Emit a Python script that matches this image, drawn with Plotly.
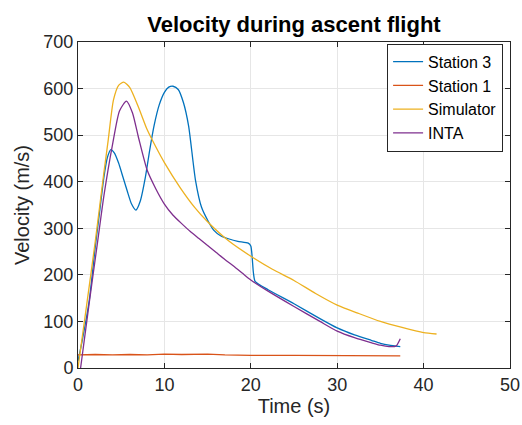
import plotly.graph_objects as go

# Station 3 (blue)
st3_t = [0, 0.5, 1.3, 2.0, 2.5, 3.0, 3.4, 3.8, 4.2, 4.7, 5.2, 5.7, 6.2, 6.7, 7.2, 7.8, 8.3, 8.8, 9.4, 10.0, 10.5, 11.0, 11.6, 12.2, 12.8, 13.6, 14.3, 15.1, 15.7, 16.5, 17.5, 18.5, 19.7, 20.0, 20.3, 20.5, 22.0, 25.0, 28.0, 30.0, 32.0, 34.0, 35.0, 36.0, 37.3]
st3_v = [15, 60, 145, 260, 335, 410, 452, 469, 462, 440, 410, 380, 352, 339, 358, 410, 468, 520, 565, 592, 603, 605, 598, 570, 520, 403, 345, 314, 296, 284, 277, 272, 268, 262, 205, 186, 168, 138, 106, 86, 71, 59, 53, 49, 46]

# Station 1 (red)
st1_t = [0, 2, 4, 6, 8, 10, 12, 14, 15, 17, 20, 25, 30, 35, 37.3]
st1_v = [28, 29, 28, 29, 28, 30, 29, 29, 30, 28, 27, 27, 26, 26, 26]

# Simulator (yellow)
sim_t = [0, 1, 2, 3, 3.5, 4.1, 4.7, 5.3, 6, 7, 8, 9, 10, 11.8, 13.5, 15, 17.5, 20, 22.5, 25, 27.5, 30, 32.5, 35, 37.5, 40, 41.5]
sim_v = [0, 135, 272, 420, 490, 575, 607, 614, 602, 560, 512, 475, 441, 388, 345, 314, 272, 240, 212, 188, 160, 135, 117, 100, 87, 76, 73]

# INTA (purple)
inta_t = [0.3, 1.3, 2.3, 3.0, 4.0, 4.8, 5.6, 6.3, 7.0, 8.0, 9.0, 10.0, 11.0, 12.0, 13.0, 14.0, 15.0, 16.0, 17.0, 18.0, 19.0, 20.0, 22.0, 25.0, 28.0, 30.0, 32.0, 34.0, 35.0, 36.0, 36.8, 37.3]
inta_v = [0, 140, 275, 370, 480, 552, 573, 548, 495, 425, 385, 352, 328, 310, 293, 278, 263, 248, 233, 219, 204, 189, 165, 132, 100, 79, 65, 54, 49, 46, 47, 63]

series = [
    ("Station 3", st3_t, st3_v, "#0072BD", "spline"),
    ("Station 1", st1_t, st1_v, "#D95319", "linear"),
    ("Simulator", sim_t, sim_v, "#EDB120", "spline"),
    ("INTA", inta_t, inta_v, "#7E2F8E", "spline"),
]

FONT = "Liberation Sans, Arial, Helvetica, sans-serif"

fig = go.Figure()
for name, t, v, c, shape in series:
    line = dict(color=c, width=1.3, shape=shape)
    if shape == "spline":
        line["smoothing"] = 0.6
    fig.add_trace(go.Scatter(x=t, y=v, mode="lines", name=name, line=line))

axis_common = dict(
    showline=True, linecolor="#262626", linewidth=1, mirror="allticks",
    ticks="inside", ticklen=5, tickcolor="#262626",
    showgrid=True, gridcolor="#e6e6e6", gridwidth=1, zeroline=False,
    automargin=False, ticklabeloverflow="allow",
    tickfont=dict(family=FONT, size=18, color="#262626"),
)

W, H = 522, 425
fig.update_layout(
    width=W, height=H,
    margin=dict(l=78, r=12, t=42, b=57, autoexpand=False),
    paper_bgcolor="white", plot_bgcolor="white",
    title=dict(text="<b>Velocity during ascent flight</b>", x=0.5, xanchor="center",
               xref="paper", y=1 - 24 / H, yref="container", yanchor="middle",
               font=dict(family=FONT, size=22, color="black")),
    xaxis=dict(range=[0, 50], dtick=10, title=dict(text="Time (s)", standoff=5,
               font=dict(family=FONT, size=20, color="#262626")),
               **axis_common),
    yaxis=dict(range=[0, 700], dtick=100, title=dict(text="Velocity (m/s)", standoff=8,
               font=dict(family=FONT, size=20, color="#262626")),
               **axis_common),
    legend=dict(x=0.984, y=0.995, xanchor="right", yanchor="top",
                bgcolor="white", bordercolor="#262626", borderwidth=1,
                font=dict(family=FONT, size=16, color="black"),
                tracegroupgap=0, itemwidth=30),
    showlegend=True,
)

fig.write_html(
    "out.html",
    config={"displayModeBar": False},
    post_script="document.body.style.margin='0';document.body.style.overflow='hidden';",
)
